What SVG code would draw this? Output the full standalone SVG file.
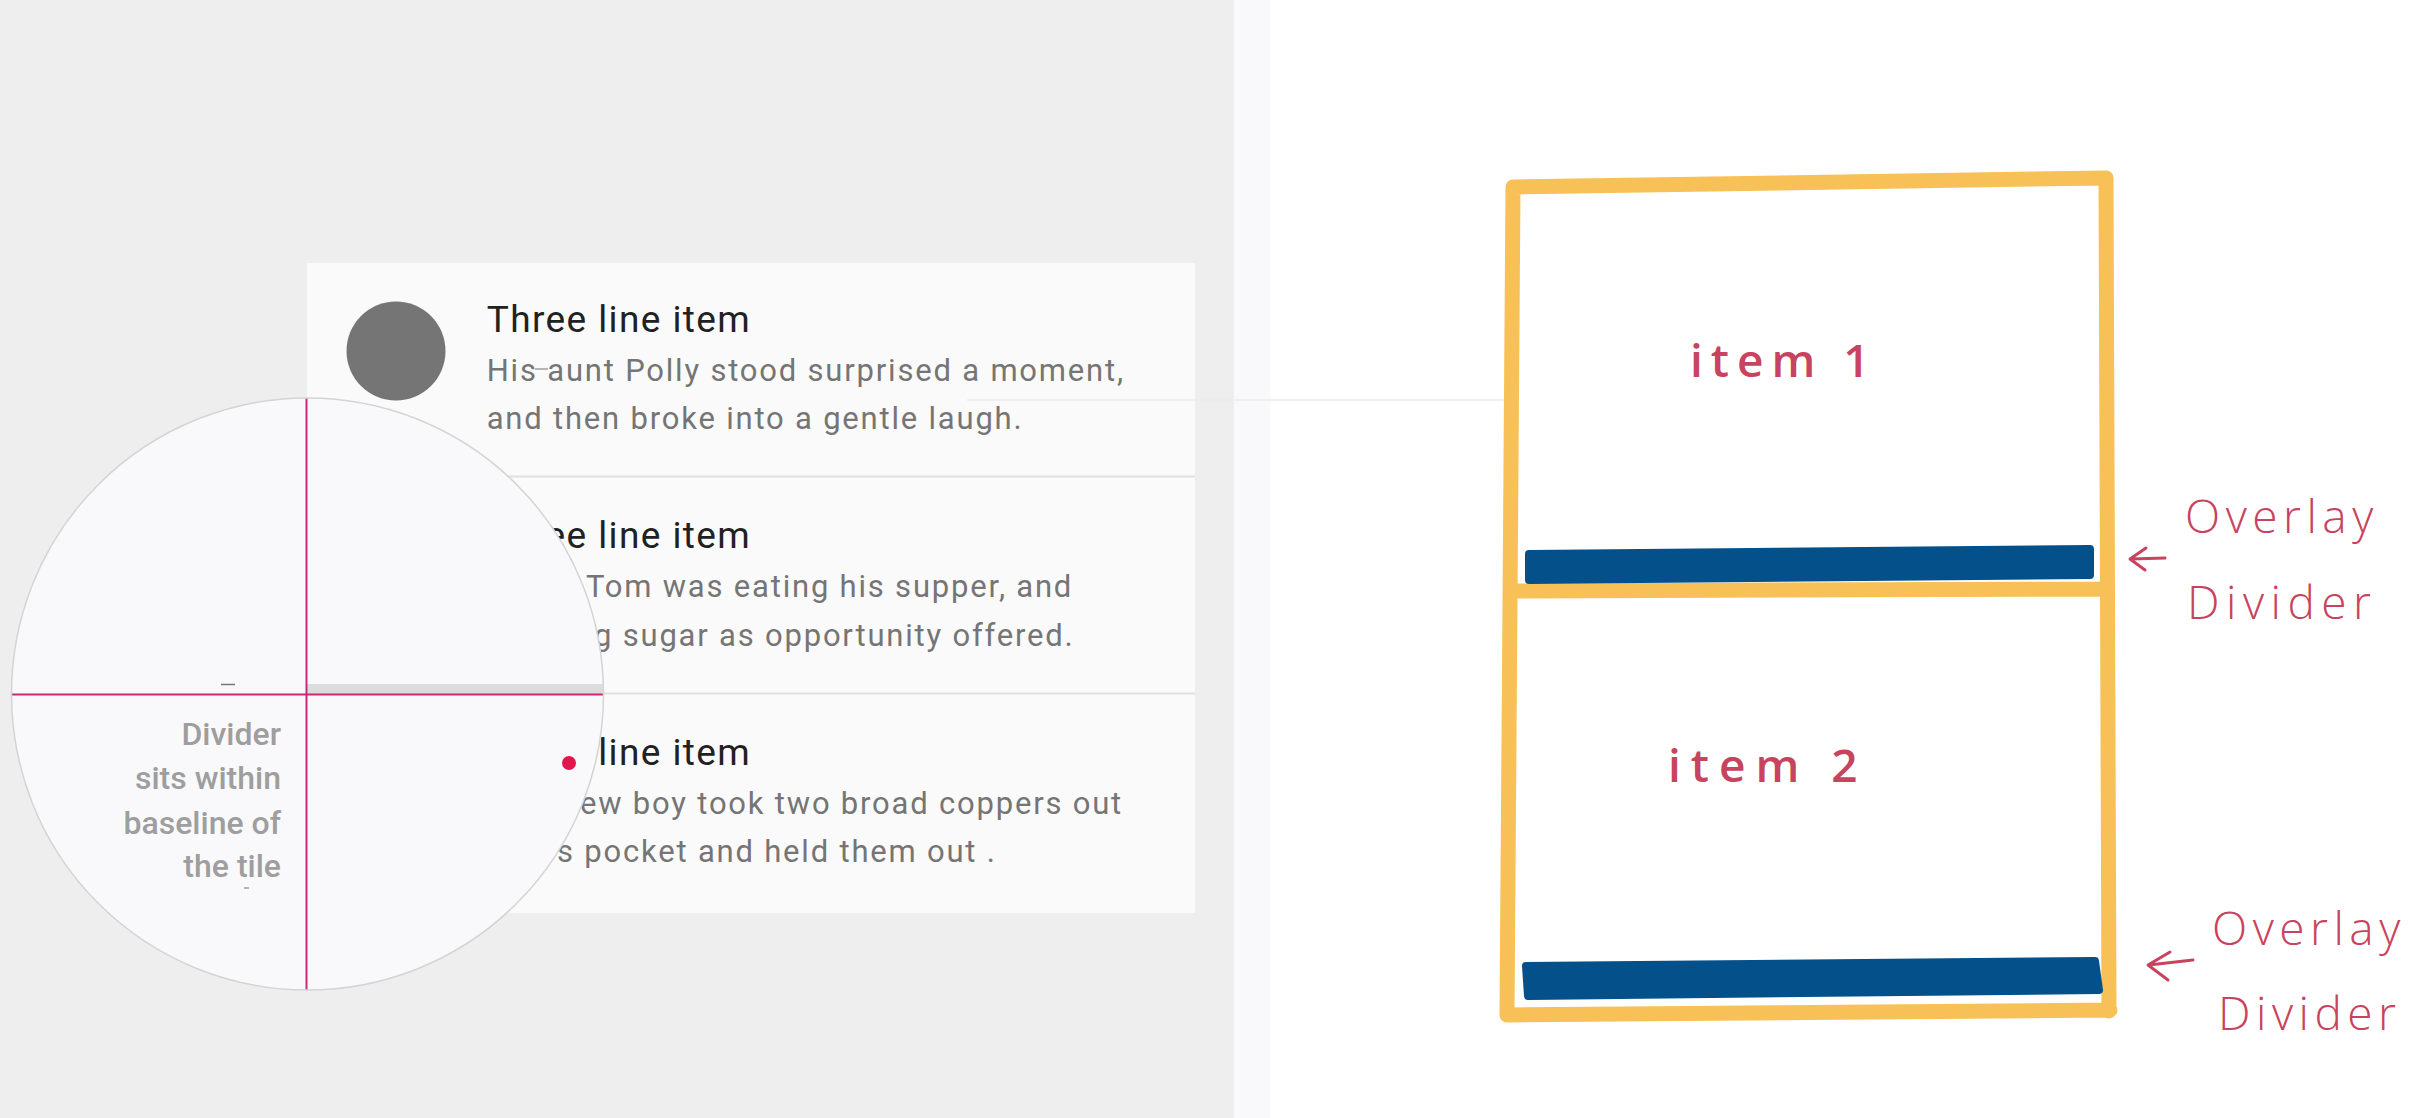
<svg xmlns="http://www.w3.org/2000/svg" width="2426" height="1118" viewBox="0 0 2426 1118">
<defs>
<style>
.title{font-family:Roboto,"Liberation Sans",sans-serif;font-size:37px;fill:#212121;letter-spacing:1.4px}
.sec{font-family:Roboto,"Liberation Sans",sans-serif;font-size:31px;fill:#757575;letter-spacing:1.8px}
.note{font-family:Roboto,"Liberation Sans",sans-serif;font-size:32px;font-weight:500;fill:#9e9e9e;text-anchor:end}
.hand{font-family:"Open Sans","Noto Sans",sans-serif;fill:#c8435e}
.item{font-size:46px;font-weight:600;letter-spacing:8px}
.lbl{font-size:46px;font-weight:300;letter-spacing:5.5px}
.frame{fill:none;stroke:#f7c157;stroke-width:15;stroke-linecap:round;stroke-linejoin:round}
.bar{fill:#03508a;stroke:#03508a;stroke-width:8;stroke-linejoin:round}
.arrow{fill:none;stroke:#c8435e;stroke-width:3;stroke-linecap:round;stroke-linejoin:round}
.divider{stroke:#e0e0e0;stroke-width:2}
.cross{stroke:#c8287c;stroke-width:2}
</style>
<clipPath id="lens"><circle cx="307.5" cy="694" r="296"/></clipPath>
</defs>
<rect width="2426" height="1118" fill="#ffffff"/>
<rect width="1234" height="1118" fill="#eeeeee"/>
<rect x="1234" width="36" height="1118" fill="#f9f9fb"/>

<g id="list">
<rect x="307" y="263" width="888" height="650" fill="#fafafa"/>
<line class="divider" x1="486" y1="476.5" x2="1195" y2="476.5"/>
<line class="divider" x1="486" y1="693.5" x2="1195" y2="693.5"/>
<g id="row1">
<circle cx="396" cy="351" r="49.5" fill="#757575"/>
<text class="title" x="486.7" y="332">Three line item</text>
<text class="sec" x="486.7" y="381">His aunt Polly stood surprised a moment,</text>
<line x1="535" y1="369" x2="548" y2="369" stroke="#888" stroke-width="1.2"/>
<text class="sec" x="486.7" y="429">and then broke into a gentle laugh.</text>
</g>
<g id="row2">
<text class="title" x="486.7" y="548">Three line item</text>
<text class="sec" x="586" y="597">Tom was eating his supper, and</text>
<text class="sec" x="594" y="645.5">g sugar as opportunity offered.</text>
</g>
<g id="row3">
<text class="title" x="486.7" y="765">Three line item</text>
<text class="sec" x="580" y="814">ew boy took two broad coppers out</text>
<text class="sec" x="557" y="862">s pocket and held them out .</text>
</g>
</g>

<g id="connectors">
<line x1="967" y1="400" x2="1508" y2="400" stroke="#ebebeb" stroke-width="1.5"/>
</g>

<g id="magnifier">
<circle cx="307.5" cy="694" r="296" fill="#f9f9fb"/>
<g clip-path="url(#lens)">
<rect x="307" y="684" width="300" height="10" fill="#dcdcdc"/>
<line class="cross" x1="306.5" y1="390" x2="306.5" y2="1000"/>
<line class="cross" x1="0" y1="694.5" x2="610" y2="694.5"/>
</g>
<circle cx="307.5" cy="694" r="296" fill="none" stroke="#d4d4d4" stroke-width="1.5"/>
<line x1="221" y1="684.5" x2="235" y2="684.5" stroke="#777" stroke-width="1.5"/>
<line x1="244" y1="888" x2="249" y2="888" stroke="#888" stroke-width="1.2"/>
<text class="note" x="281" y="745">Divider</text>
<text class="note" x="281" y="789">sits within</text>
<text class="note" x="281" y="833.5">baseline of</text>
<text class="note" x="281" y="877">the tile</text>
<circle cx="569" cy="763" r="7" fill="#e0174c"/>
</g>

<g id="sketch">
<path class="frame" d="M1513,187 L2106,178 M2106,178 L2109,1011 M2110,1010 L1507,1015 M1507,1015 L1513,187 M1513,591 L2107,589"/>
<path class="bar" d="M1529,554 L2090,549 L2090,575 L1529,580 Z"/>
<path class="bar" d="M1526,966 L2095,961 L2099,990 L1528,996 Z"/>
</g>
<g id="item1"><text class="hand item" x="1690" y="377">item 1</text></g>
<g id="item2"><text class="hand item" x="1668" y="782" style="letter-spacing:10px">item 2</text></g>

<g id="label1">
<path class="arrow" d="M2165,558 L2131,559 M2146,548 L2130,559 L2145,570"/>
<text class="hand lbl" x="2185" y="533">Overlay</text>
<text class="hand lbl" x="2187" y="619" style="letter-spacing:6.5px">Divider</text>
</g>
<g id="label2">
<path class="arrow" d="M2193,960 L2149,965 M2170,952 L2148,965 L2168,980"/>
<text class="hand lbl" x="2212" y="945">Overlay</text>
<text class="hand lbl" x="2218" y="1030">Divider</text>
</g>
</svg>
